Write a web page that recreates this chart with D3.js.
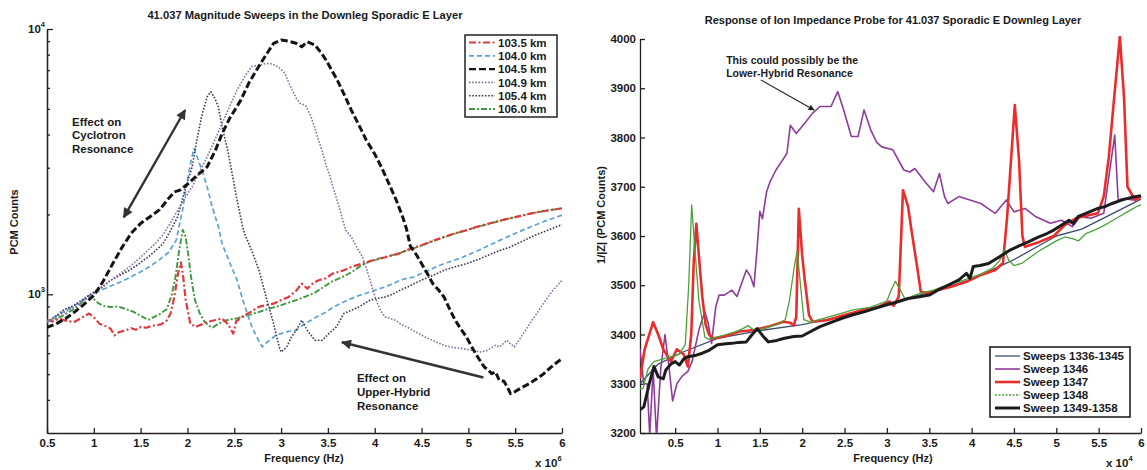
<!DOCTYPE html>
<html>
<head>
<meta charset="utf-8">
<script src="https://cdn.jsdelivr.net/npm/d3@7"></script>
<style>
  body { margin: 0; background: #fff; }
  svg text { font-family: "Liberation Sans", Arial, sans-serif; font-weight: bold; fill: #1a1a1a; }
</style>
</head>
<body>
<svg id="chart" width="1147" height="470"></svg>
<script>
// ---- left chart: magnitude sweeps, frequency in MHz (x 10^6), PCM counts ----
const xTicksLeft = [0.5, 1, 1.5, 2, 2.5, 3, 3.5, 4, 4.5, 5, 5.5, 6];
const yMajorLeft = [1000, 10000];
const yMinorLeft = [400, 500, 600, 700, 800, 900, 2000, 3000, 4000, 5000, 6000, 7000, 8000, 9000];
const altitudes = ["103.5 km", "104.0 km", "104.5 km", "104.9 km", "105.4 km", "106.0 km"];

const km1035 = [[0.5,798],[0.56,790],[0.63,810],[0.7,795],[0.79,786],[0.87,815],[0.95,846],[1.0,820],[1.06,775],[1.12,760],[1.18,742],[1.22,700],[1.27,720],[1.34,731],[1.4,745],[1.45,735],[1.5,753],[1.56,748],[1.62,760],[1.66,764],[1.72,770],[1.78,798],[1.82,846],[1.86,980],[1.9,1200],[1.93,1320],[1.955,1160],[1.98,960],[2.0,880],[2.03,775],[2.09,753],[2.15,770],[2.21,786],[2.3,800],[2.37,810],[2.42,780],[2.45,753],[2.49,711],[2.52,790],[2.57,815],[2.61,833],[2.68,860],[2.76,896],[2.84,910],[2.92,922],[3.0,950],[3.08,977],[3.16,1030],[3.22,1097],[3.28,1050],[3.34,1100],[3.4,1129],[3.48,1150],[3.55,1197],[3.65,1225],[3.75,1268],[3.85,1300],[3.95,1335],[4.05,1360],[4.15,1390],[4.25,1420],[4.35,1470],[4.5,1531],[4.62,1590],[4.74,1646],[4.86,1700],[4.98,1744],[5.1,1800],[5.25,1860],[5.4,1920],[5.55,1970],[5.7,2030],[5.85,2070],[6.0,2110]];

const km1040 = [[0.5,786],[0.6,830],[0.7,870],[0.8,910],[0.9,960],[1.0,1006],[1.1,1045],[1.2,1081],[1.3,1120],[1.4,1165],[1.5,1215],[1.6,1275],[1.7,1350],[1.8,1440],[1.88,1600],[1.95,2100],[2.0,2700],[2.04,3200],[2.07,3550],[2.11,3250],[2.16,2900],[2.21,2540],[2.27,2100],[2.33,1800],[2.37,1550],[2.45,1320],[2.53,1130],[2.6,930],[2.69,750],[2.75,680],[2.8,633],[2.85,660],[2.88,671],[2.94,700],[3.0,711],[3.08,725],[3.16,731],[3.24,770],[3.32,798],[3.4,830],[3.48,857],[3.55,890],[3.63,922],[3.71,950],[3.79,977],[3.87,1000],[3.95,1020],[4.03,1045],[4.11,1065],[4.19,1095],[4.27,1129],[4.35,1150],[4.42,1162],[4.5,1200],[4.58,1232],[4.66,1270],[4.74,1305],[4.84,1340],[4.94,1380],[5.04,1430],[5.14,1480],[5.24,1540],[5.34,1600],[5.44,1660],[5.54,1720],[5.64,1780],[5.74,1840],[5.84,1900],[5.92,1940],[6.0,1990]];

const km1045 = [[0.5,750],[0.6,775],[0.7,810],[0.8,860],[0.9,920],[1.0,990],[1.1,1120],[1.2,1300],[1.3,1500],[1.4,1700],[1.5,1850],[1.6,1960],[1.7,2080],[1.8,2300],[1.86,2430],[1.92,2470],[2.0,2600],[2.1,2800],[2.21,3020],[2.3,3500],[2.37,4036],[2.45,4600],[2.57,5395],[2.66,6300],[2.76,7212],[2.84,8000],[2.92,8833],[3.0,9082],[3.08,9000],[3.16,8833],[3.22,8570],[3.28,8950],[3.36,8709],[3.42,8200],[3.48,7640],[3.54,7000],[3.6,6425],[3.68,5600],[3.75,4946],[3.83,4350],[3.91,3810],[4.0,3380],[4.07,3020],[4.15,2620],[4.23,2263],[4.3,1950],[4.34,1760],[4.38,1520],[4.45,1400],[4.5,1305],[4.56,1200],[4.62,1097],[4.68,1040],[4.74,977],[4.8,880],[4.86,798],[4.92,740],[4.98,690],[5.04,630],[5.1,580],[5.17,532],[5.22,515],[5.25,502],[5.29,510],[5.33,474],[5.38,470],[5.42,445],[5.45,422],[5.5,430],[5.57,445],[5.65,460],[5.73,480],[5.8,500],[5.88,530],[5.95,555],[6.0,572]];

const km1049 = [[0.5,786],[0.63,833],[0.79,896],[0.9,950],[1.0,1006],[1.1,1065],[1.18,1129],[1.28,1195],[1.38,1268],[1.48,1360],[1.58,1466],[1.66,1560],[1.74,1680],[1.82,1860],[1.895,2075],[1.97,2300],[2.05,2541],[2.13,2900],[2.21,3296],[2.29,3800],[2.37,4404],[2.45,5100],[2.53,5888],[2.61,6600],[2.685,7212],[2.764,7300],[2.84,7414],[2.89,7400],[2.94,7300],[2.99,7100],[3.04,6810],[3.08,6300],[3.12,5888],[3.16,5500],[3.2,5250],[3.26,5150],[3.32,4666],[3.36,4250],[3.4,3810],[3.44,3450],[3.475,3110],[3.52,2800],[3.554,2541],[3.6,2250],[3.63,2075],[3.69,1744],[3.75,1646],[3.81,1500],[3.87,1383],[3.91,1250],[3.95,1129],[3.99,1010],[4.03,922],[4.07,860],[4.11,822],[4.17,810],[4.226,798],[4.28,770],[4.344,753],[4.44,720],[4.54,690],[4.64,665],[4.74,642],[4.84,630],[4.94,624],[5.04,615],[5.13,606],[5.21,615],[5.25,630],[5.29,642],[5.33,633],[5.37,650],[5.41,671],[5.45,650],[5.49,633],[5.55,680],[5.61,731],[5.67,790],[5.73,846],[5.79,910],[5.85,977],[5.92,1050],[6.0,1129]];

const km1054 = [[0.5,786],[0.6,830],[0.67,870],[0.79,909],[0.9,965],[1.0,1020],[1.1,1075],[1.18,1129],[1.28,1180],[1.38,1232],[1.48,1300],[1.58,1383],[1.66,1460],[1.74,1554],[1.82,1740],[1.895,1958],[1.97,2450],[2.05,3020],[2.1,3800],[2.15,4666],[2.21,5555],[2.25,5800],[2.29,5500],[2.33,5090],[2.37,4277],[2.43,3490],[2.49,2693],[2.53,2263],[2.59,1790],[2.61,1694],[2.685,1466],[2.764,1232],[2.84,977],[2.92,775],[2.98,633],[3.0,606],[3.06,633],[3.11,690],[3.16,731],[3.22,798],[3.28,731],[3.36,671],[3.44,671],[3.51,711],[3.59,753],[3.67,846],[3.75,870],[3.83,896],[3.95,950],[4.03,965],[4.11,977],[4.19,1000],[4.27,1035],[4.35,1065],[4.42,1097],[4.5,1130],[4.58,1162],[4.66,1195],[4.74,1232],[4.86,1270],[4.98,1305],[5.1,1350],[5.21,1403],[5.33,1460],[5.45,1509],[5.6,1600],[5.73,1680],[5.86,1750],[6.0,1830]];

const km1060 = [[0.5,790],[0.58,805],[0.67,830],[0.74,860],[0.79,880],[0.87,930],[0.95,990],[1.0,960],[1.05,925],[1.1,905],[1.18,895],[1.26,900],[1.34,880],[1.42,860],[1.5,830],[1.58,800],[1.64,820],[1.7,840],[1.78,880],[1.83,990],[1.87,1150],[1.91,1450],[1.95,1750],[1.98,1650],[2.01,1400],[2.04,1150],[2.08,950],[2.13,850],[2.18,790],[2.23,760],[2.27,750],[2.32,770],[2.38,790],[2.45,805],[2.52,810],[2.6,825],[2.68,840],[2.76,857],[2.86,880],[2.96,900],[3.06,925],[3.16,950],[3.26,980],[3.36,1013],[3.46,1070],[3.55,1120],[3.65,1160],[3.75,1210],[3.85,1280],[3.95,1330],[4.05,1365],[4.15,1395],[4.25,1425],[4.35,1465],[4.5,1525],[4.62,1585],[4.74,1640],[4.86,1695],[4.98,1745],[5.1,1795],[5.25,1855],[5.4,1915],[5.55,1975],[5.7,2025],[5.85,2075],[6.0,2105]];

// ---- right chart: ion impedance probe, frequency in 10^4 Hz, 1/|Z| ----
const xTicksRight = [0.5, 1, 1.5, 2, 2.5, 3, 3.5, 4, 4.5, 5, 5.5, 6];
const yTicksRight = [3200, 3300, 3400, 3500, 3600, 3700, 3800, 3900, 4000];
const sweepNames = ["Sweeps 1336-1345", "Sweep 1346", "Sweep 1347", "Sweep 1348", "Sweep 1349-1358"];

const sw1336 = [[0.085,3300],[0.3,3340],[0.6,3365],[1.0,3392],[1.5,3408],[2.0,3420],[2.5,3438],[3.0,3462],[3.5,3485],[4.0,3512],[4.5,3552],[5.0,3600],[5.3,3614],[5.6,3640],[6.0,3675]];

const sw1346 = [[0.085,3370],[0.13,3300],[0.17,3300],[0.2,3195],[0.24,3330],[0.28,3190],[0.33,3330],[0.38,3400],[0.43,3330],[0.47,3265],[0.52,3300],[0.58,3315],[0.65,3325],[0.7,3345],[0.78,3409],[0.85,3446],[0.89,3423],[0.93,3382],[0.98,3457],[1.02,3480],[1.08,3480],[1.17,3490],[1.23,3477],[1.3,3511],[1.34,3531],[1.39,3518],[1.43,3497],[1.47,3580],[1.5,3650],[1.53,3635],[1.58,3690],[1.62,3710],[1.69,3734],[1.76,3752],[1.82,3768],[1.86,3825],[1.93,3808],[2.03,3829],[2.12,3849],[2.21,3863],[2.34,3863],[2.42,3893],[2.49,3856],[2.58,3802],[2.66,3802],[2.73,3856],[2.81,3815],[2.88,3790],[2.94,3781],[3.07,3775],[3.2,3734],[3.27,3730],[3.33,3737],[3.45,3710],[3.55,3690],[3.62,3727],[3.68,3680],[3.72,3666],[3.85,3680],[3.98,3673],[4.11,3666],[4.2,3655],[4.28,3646],[4.41,3673],[4.5,3649],[4.63,3656],[4.76,3639],[4.93,3626],[5.06,3632],[5.19,3619],[5.28,3639],[5.41,3636],[5.56,3646],[5.62,3720],[5.69,3805],[5.73,3673],[5.8,3676],[5.9,3673],[6.0,3680]];

const sw1347 = [[0.085,3310],[0.14,3370],[0.24,3425],[0.3,3400],[0.36,3370],[0.45,3345],[0.52,3370],[0.6,3360],[0.65,3335],[0.69,3400],[0.72,3550],[0.75,3625],[0.78,3560],[0.82,3477],[0.86,3420],[0.9,3400],[0.95,3392],[1.08,3396],[1.26,3406],[1.43,3409],[1.6,3416],[1.78,3426],[1.86,3424],[1.9,3418],[1.93,3436],[1.96,3655],[2.0,3560],[2.03,3511],[2.08,3440],[2.12,3426],[2.29,3429],[2.51,3440],[2.73,3450],[2.9,3456],[3.03,3467],[3.08,3458],[3.14,3477],[3.19,3693],[3.25,3660],[3.29,3612],[3.35,3545],[3.4,3487],[3.47,3484],[3.59,3490],[3.76,3497],[3.94,3507],[4.11,3521],[4.28,3531],[4.37,3545],[4.42,3640],[4.51,3866],[4.56,3754],[4.6,3600],[4.63,3578],[4.8,3588],[4.97,3600],[5.1,3622],[5.23,3636],[5.41,3643],[5.49,3646],[5.56,3680],[5.62,3760],[5.67,3856],[5.75,4005],[5.8,3880],[5.84,3700],[5.93,3673],[6.0,3680]];

const sw1348 = [[0.085,3290],[0.12,3290],[0.18,3330],[0.25,3345],[0.35,3350],[0.45,3355],[0.55,3360],[0.62,3380],[0.66,3500],[0.695,3663],[0.73,3580],[0.78,3470],[0.85,3395],[0.9,3390],[1.0,3395],[1.1,3400],[1.2,3405],[1.3,3412],[1.36,3418],[1.42,3410],[1.5,3410],[1.6,3415],[1.7,3420],[1.8,3430],[1.85,3470],[1.9,3530],[1.94,3570],[1.98,3500],[2.02,3430],[2.1,3425],[2.2,3430],[2.4,3440],[2.6,3450],[2.8,3455],[3.0,3468],[3.05,3490],[3.1,3508],[3.16,3490],[3.22,3470],[3.3,3478],[3.4,3484],[3.55,3490],[3.7,3500],[3.9,3510],[4.1,3522],[4.25,3535],[4.33,3550],[4.39,3572],[4.44,3550],[4.5,3540],[4.6,3545],[4.7,3558],[4.8,3570],[4.9,3580],[5.0,3590],[5.1,3598],[5.2,3594],[5.26,3590],[5.35,3605],[5.45,3612],[5.55,3620],[5.65,3630],[5.75,3640],[5.85,3650],[5.95,3660],[6.0,3663]];

const sw1349 = [[0.085,3247],[0.13,3253],[0.2,3304],[0.25,3335],[0.3,3314],[0.36,3310],[0.39,3328],[0.45,3340],[0.5,3345],[0.55,3338],[0.6,3350],[0.65,3355],[0.75,3358],[0.82,3362],[0.9,3368],[1.0,3379],[1.1,3381],[1.17,3382],[1.25,3384],[1.34,3385],[1.4,3398],[1.47,3412],[1.54,3396],[1.6,3385],[1.7,3388],[1.78,3392],[1.9,3396],[2.0,3397],[2.1,3406],[2.21,3416],[2.35,3425],[2.47,3433],[2.6,3440],[2.73,3446],[2.86,3453],[2.99,3460],[3.1,3465],[3.25,3473],[3.4,3477],[3.5,3480],[3.6,3490],[3.72,3500],[3.85,3511],[3.94,3524],[3.98,3514],[4.02,3538],[4.1,3540],[4.2,3544],[4.33,3558],[4.46,3572],[4.56,3580],[4.67,3588],[4.78,3597],[4.89,3605],[4.97,3612],[5.06,3622],[5.15,3632],[5.2,3625],[5.26,3640],[5.35,3646],[5.49,3656],[5.58,3660],[5.66,3666],[5.77,3673],[5.88,3678],[6.0,3682]];

const svg = d3.select("#chart");
const font = 11.5;

const defs = svg.append("defs");
defs.append("marker").attr("id", "head").attr("viewBox", "0 0 10 10")
  .attr("refX", 9).attr("refY", 5).attr("markerUnits", "userSpaceOnUse")
  .attr("markerWidth", 13).attr("markerHeight", 10).attr("orient", "auto-start-reverse")
  .append("path").attr("d", "M0,0L10,5L0,10Z").attr("fill", "#333");
defs.append("marker").attr("id", "smallhead").attr("viewBox", "0 0 10 10")
  .attr("refX", 9).attr("refY", 5).attr("markerUnits", "userSpaceOnUse")
  .attr("markerWidth", 8).attr("markerHeight", 6).attr("orient", "auto")
  .append("path").attr("d", "M0,0L10,5L0,10Z").attr("fill", "#222");

// ================= LEFT =================
const xL = d3.scaleLinear().domain([0.5, 6]).range([47, 562]);
const yL = d3.scaleLog().domain([300, 10000]).range([433, 29]);

defs.append("clipPath").attr("id", "clipL").append("rect")
  .attr("x", 47).attr("y", 29).attr("width", 515).attr("height", 404);

const styleAxis = g => {
  g.selectAll("path, line").attr("stroke", "#222").attr("stroke-width", 1.3);
  g.selectAll("text").attr("font-size", font).attr("fill", "#1a1a1a");
};

svg.append("g").attr("transform", "translate(0,433)")
  .call(d3.axisBottom(xL).tickValues(xTicksLeft).tickFormat(d => d)
    .tickSize(-5).tickSizeOuter(0).tickPadding(6))
  .call(styleAxis);

svg.append("g").attr("transform", "translate(47,0)")
  .call(d3.axisLeft(yL).tickValues(yMinorLeft).tickFormat("").tickSize(-3).tickSizeOuter(0))
  .call(styleAxis);
svg.append("g").attr("transform", "translate(47,0)")
  .call(d3.axisLeft(yL).tickValues(yMajorLeft).tickFormat("").tickSize(-6).tickSizeOuter(0))
  .call(styleAxis);

yMajorLeft.forEach(v => {
  const t = svg.append("text").attr("x", 45).attr("y", yL(v) + 4)
    .attr("text-anchor", "end").attr("font-size", font);
  t.append("tspan").text("10");
  t.append("tspan").attr("dy", -6).attr("font-size", 7.5).text(Math.round(Math.log10(v)));
});

const seriesL = [
  { name: altitudes[0], data: km1035, color: "#e03a3e", width: 2.2, dash: "7 2.5 2 2.5" },
  { name: altitudes[1], data: km1040, color: "#5aa3d6", width: 1.7, dash: "5 3" },
  { name: altitudes[2], data: km1045, color: "#141414", width: 3, dash: "7 3" },
  { name: altitudes[3], data: km1049, color: "#8c6f9e", width: 1.6, dash: "1.6 1.6" },
  { name: altitudes[4], data: km1054, color: "#3a3a5c", width: 1.6, dash: "1.6 1.6" },
  { name: altitudes[5], data: km1060, color: "#3f9a3f", width: 1.9, dash: "6 2 2 2" }
];

const lineL = d3.line().x(d => xL(d[0])).y(d => yL(d[1]));
const plotL = svg.append("g").attr("clip-path", "url(#clipL)");
[5, 0, 1, 4, 3, 2].forEach(i => {
  const s = seriesL[i];
  plotL.append("path").datum(s.data).attr("d", lineL)
    .attr("fill", "none").attr("stroke", s.color).attr("stroke-width", s.width)
    .attr("stroke-dasharray", s.dash).attr("stroke-linejoin", "round");
});

// titles and labels
svg.append("text").attr("x", 305).attr("y", 19).attr("text-anchor", "middle")
  .attr("font-size", 11.2).text("41.037 Magnitude Sweeps in the Downleg Sporadic E Layer");
svg.append("text").attr("x", 304).attr("y", 462).attr("text-anchor", "middle")
  .attr("font-size", 11).text("Frequency (Hz)");
const expL = svg.append("text").attr("x", 535).attr("y", 467).attr("font-size", font);
expL.append("tspan").text("x 10");
expL.append("tspan").attr("dy", -6).attr("font-size", 7.5).text("6");
svg.append("text").attr("transform", "translate(18,222) rotate(-90)")
  .attr("text-anchor", "middle").attr("font-size", 11).text("PCM Counts");

// legend
const legL = svg.append("g");
legL.append("rect").attr("x", 465).attr("y", 35).attr("width", 92).attr("height", 82)
  .attr("fill", "#fff").attr("stroke", "#222").attr("stroke-width", 1.5);
seriesL.forEach((s, i) => {
  const yy = 42.5 + i * 13.3;
  legL.append("line").attr("x1", 469).attr("x2", 495).attr("y1", yy).attr("y2", yy)
    .attr("stroke", s.color).attr("stroke-width", Math.min(s.width, 2.4)).attr("stroke-dasharray", s.dash);
  legL.append("text").attr("x", 498).attr("y", yy).attr("dy", "0.36em")
    .attr("font-size", font).text(s.name);
});

// annotations (data coordinates)
const cycArrow = [[1.32, 1950], [1.975, 4950]];
const uhArrow = [[5.16, 486], [3.65, 659]];
svg.append("line")
  .attr("x1", xL(cycArrow[0][0])).attr("y1", yL(cycArrow[0][1]))
  .attr("x2", xL(cycArrow[1][0])).attr("y2", yL(cycArrow[1][1]))
  .attr("stroke", "#333").attr("stroke-width", 2.4)
  .attr("marker-start", "url(#head)").attr("marker-end", "url(#head)");
svg.append("line")
  .attr("x1", xL(uhArrow[0][0])).attr("y1", yL(uhArrow[0][1]))
  .attr("x2", xL(uhArrow[1][0])).attr("y2", yL(uhArrow[1][1]))
  .attr("stroke", "#333").attr("stroke-width", 2.6).attr("marker-end", "url(#head)");

const multiText = (x, y, lines, size, gap) => {
  const t = svg.append("text").attr("x", x).attr("y", y).attr("font-size", size);
  lines.forEach((l, i) => t.append("tspan").attr("x", x).attr("dy", i ? gap : 0).text(l));
};
multiText(xL(0.767), yL(4305), ["Effect on", "Cyclotron", "Resonance"], font, 13.3);
multiText(xL(3.81), yL(466), ["Effect on", "Upper-Hybrid", "Resonance"], font, 14);

// ================= RIGHT =================
const xR = d3.scaleLinear().domain([0.085, 6]).range([640, 1141]);
const yR = d3.scaleLinear().domain([3200, 4000]).range([433, 39]);

defs.append("clipPath").attr("id", "clipR").append("rect")
  .attr("x", 640).attr("y", 36).attr("width", 507).attr("height", 397);

svg.append("g").attr("transform", "translate(0,433)")
  .call(d3.axisBottom(xR).tickValues(xTicksRight).tickFormat(d => d)
    .tickSize(-5).tickSizeOuter(0).tickPadding(6))
  .call(styleAxis);
svg.append("g").attr("transform", "translate(640,0)")
  .call(d3.axisLeft(yR).tickValues(yTicksRight).tickFormat(d => d)
    .tickSize(-5).tickSizeOuter(0).tickPadding(4))
  .call(styleAxis);

const seriesR = [
  { name: sweepNames[0], data: sw1336, color: "#3d4c6e", width: 1.3 },
  { name: sweepNames[1], data: sw1346, color: "#8e3c9c", width: 1.6 },
  { name: sweepNames[2], data: sw1347, color: "#ec2b2b", width: 2.6 },
  { name: sweepNames[3], data: sw1348, color: "#4aa23a", width: 1.3 },
  { name: sweepNames[4], data: sw1349, color: "#1c1c1c", width: 3 }
];

const lineR = d3.line().x(d => xR(d[0])).y(d => yR(d[1]));
const plotR = svg.append("g").attr("clip-path", "url(#clipR)");
seriesR.forEach(s => {
  plotR.append("path").datum(s.data).attr("d", lineR)
    .attr("fill", "none").attr("stroke", s.color).attr("stroke-width", s.width)
    .attr("stroke-linejoin", "round");
});

svg.append("text").attr("x", 893).attr("y", 24).attr("text-anchor", "middle")
  .attr("font-size", 11).text("Response of Ion Impedance Probe for 41.037 Sporadic E Downleg Layer");
svg.append("text").attr("x", 893).attr("y", 462).attr("text-anchor", "middle")
  .attr("font-size", 11).text("Frequency (Hz)");
const expR = svg.append("text").attr("x", 1106).attr("y", 467).attr("font-size", font);
expR.append("tspan").text("x 10");
expR.append("tspan").attr("dy", -6).attr("font-size", 7.5).text("4");
svg.append("text").attr("transform", "translate(605,215) rotate(-90)")
  .attr("text-anchor", "middle").attr("font-size", 11).text("1/|Z| (PCM Counts)");

const legR = svg.append("g");
legR.append("rect").attr("x", 990).attr("y", 347).attr("width", 140).attr("height", 70)
  .attr("fill", "#fff").attr("stroke", "#222").attr("stroke-width", 1.6);
seriesR.forEach((s, i) => {
  const yy = 356 + i * 13;
  legR.append("line").attr("x1", 995).attr("x2", 1020).attr("y1", yy).attr("y2", yy)
    .attr("stroke", s.color).attr("stroke-width", s.width)
    .attr("stroke-dasharray", i === 3 ? "2 1.5" : null);
  legR.append("text").attr("x", 1023).attr("y", yy).attr("dy", "0.36em")
    .attr("font-size", font).text(s.name);
});

const lhArrow = [[1.51, 3917], [2.14, 3856]];
svg.append("line")
  .attr("x1", xR(lhArrow[0][0])).attr("y1", yR(lhArrow[0][1]))
  .attr("x2", xR(lhArrow[1][0])).attr("y2", yR(lhArrow[1][1]))
  .attr("stroke", "#222").attr("stroke-width", 1.1).attr("marker-end", "url(#smallhead)");
multiText(xR(1.102), yR(3949), ["This could possibly be the", "Lower-Hybrid Resonance"], 10.5, 13);
</script>
</body>
</html>
